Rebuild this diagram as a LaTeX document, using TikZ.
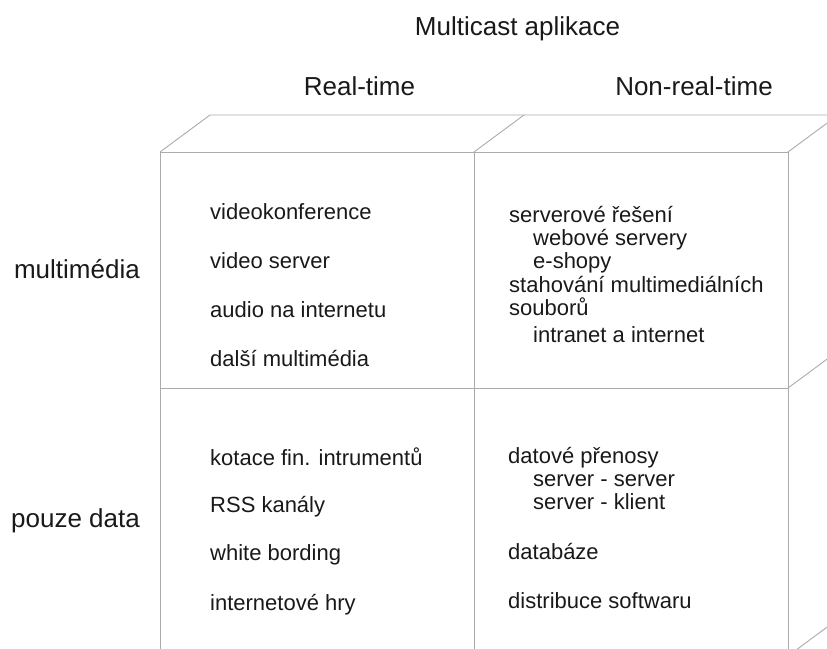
\documentclass[tikz,border=0pt]{standalone}
\usepackage{fontspec}
\setmainfont{Liberation Sans}
\begin{document}
\begin{tikzpicture}[x=1pt,y=-1pt,
  edge/.style={draw=black!33, line width=0.9pt},
  head/.style={font=\fontsize{26}{30}\selectfont, text=black!90, inner sep=0pt, anchor=base},
  rowlabel/.style={font=\fontsize{26}{30}\selectfont, text=black!90, inner sep=0pt, anchor=base east},
  item/.style={font=\fontsize{22}{26}\selectfont, text=black!90, inner sep=0pt, anchor=base west},
]
\useasboundingbox (0,0) rectangle (827,648);
\clip (0,0) rectangle (827,648);

% front face of the block: two columns, two rows
\draw[edge] (160,152) rectangle (788,656);
\draw[edge] (474,152) -- (474,656);
\draw[edge] (160,388) -- (788,388);
% top face
\draw[edge] (160,152) -- (210,115) -- (838,115);
\draw[edge] (474,152) -- (524,115);
\draw[edge] (788,152) -- (838,115);
% right face
\draw[edge] (788,388) -- (838,351);
\draw[edge] (788,656) -- (838,619);

% headings
\node[head] (title) at (517.5,35) {Multicast aplikace};
\node[head] (rt) at (359.5,95) {Real-time};
\node[head] (nrt) at (694,95) {Non-real-time};
\node[rowlabel] (mm) at (140,278) {multimédia};
\node[rowlabel] (pd) at (140,527) {pouze data};

% real-time, multimedia
\node[item] (a1) at (210,219) {videokonference};
\node[item] (a2) at (210,268) {video server};
\node[item] (a3) at (210,317) {audio na internetu};
\node[item] (a4) at (210,366) {další multimédia};

% non-real-time, multimedia
\node[item] (b1) at (509,222) {serverové řešení};
\node[item] (b2) at (533,245) {webové servery};
\node[item] (b3) at (533,268) {e-shopy};
\node[item] (b4) at (509,292) {stahování multimediálních};
\node[item] (b5) at (509,315) {souborů};
\node[item] (b6) at (533,342) {intranet a internet};

% real-time, data only
\node[item] (c1) at (210,465) {kotace fin. intrumentů};
\node[item] (c2) at (210,512) {RSS kanály};
\node[item] (c3) at (210,560) {white bording};
\node[item] (c4) at (210,610) {internetové hry};

% non-real-time, data only
\node[item] (d1) at (508,463) {datové přenosy};
\node[item] (d2) at (533,486) {server - server};
\node[item] (d3) at (533,509) {server - klient};
\node[item] (d4) at (508,559) {databáze};
\node[item] (d5) at (508,608) {distribuce softwaru};
\end{tikzpicture}
\end{document}
